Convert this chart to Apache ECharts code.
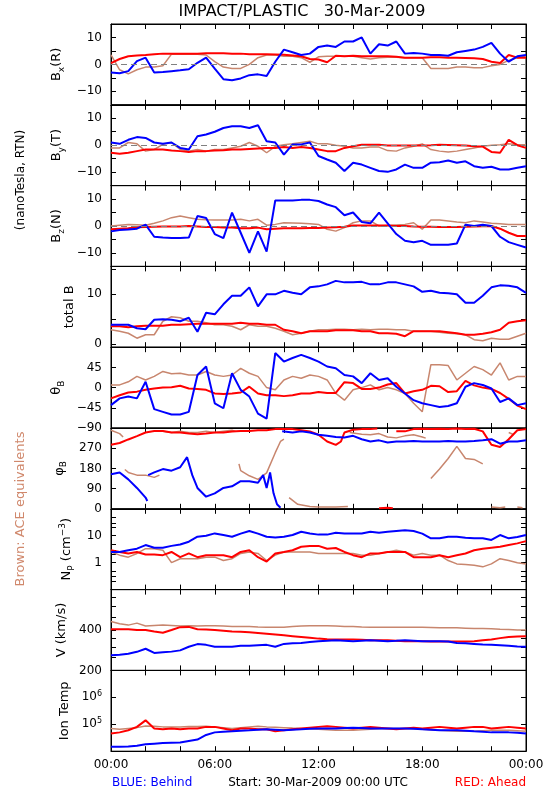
<!DOCTYPE html>
<html><head><meta charset="utf-8">
<script src="https://cdn.jsdelivr.net/npm/echarts@6/dist/echarts.min.js"></script>
<style>html,body{margin:0;padding:0;background:#fff}#c{width:550px;height:800px}</style>
</head><body><div id="c"></div>
<script>
// ---- time grid (hours after 30-Mar-2009 00:00 UTC) ----
const hours = [0,0.5,1,1.5,2,2.5,3,3.5,4,4.5,5,5.5,6,6.5,7,7.5,8,8.5,9,9.5,10,10.5,11,11.5,12,12.5,13,13.5,14,14.5,15,15.5,16,16.5,17,17.5,18,18.5,19,19.5,20,20.5,21,21.5,22,22.5,23,23.5,24];
const xTickHours = [0,2,4,6,8,10,12,14,16,18,20,22,24];
const xLabelHours = [0,6,12,18,24];
const xLabelText = ['00:00','06:00','12:00','18:00','00:00'];

// ---- Bx (R) ----
const bxBlue = [-3,-3.3,-2.5,1.2,2.5,-3,-2.8,-2.5,-2.2,-1.8,0.6,2.5,-1.6,-5.5,-5.9,-5.2,-4,-3.7,-4.3,1,5.5,4.5,3.5,4,6.5,7,6.5,8.5,8.5,10,4,7.5,7,8.5,4,4.2,4,3.5,3.5,3.2,4.5,5,5.5,6.5,8,4,1,3,3.5];
const bxRed = [0.5,2,3,3.3,3.5,3.8,4,4,4,4,4,4.1,4.1,4.1,4,4,3.8,3.8,3.8,3.7,3.6,3.3,3,2,1.8,0.8,3.2,3,3.2,3,3,3,3,2.8,2.5,2.5,2.5,2.7,2.7,2.5,2.5,2.4,2.3,2,1,0.5,3.5,2.5,2.5];
const bxBrown = [3.5,-2,-3.5,-2,-1,-1,-0.5,3.8,3.8,3.8,3.8,3.5,1,-1,-1.5,-1.5,0,2.5,3.5,3.5,3,3,2.5,0.8,2.8,3,3,3,3,2.5,2,2.5,2.7,2.7,2.5,2.5,2.5,-1.5,-1.5,-1.5,-1,-1,-1.2,-1.2,-0.5,0,1.5,2.5,3];
// ---- By (T) ----
const byBlue = [1,0.5,2,3,2.7,1,0.5,1,-1,-1.6,3.3,4,5,6.4,7,7,6.4,7.4,1.5,1,-3.5,0.3,0.3,1,-4,-5.3,-6.5,-9.6,-6.5,-7.2,-8.4,-9.6,-9.9,-9,-7.2,-8.4,-8.4,-6.5,-6.3,-5.7,-6.5,-6,-7.8,-8.4,-8,-9,-9,-8.4,-7.8];
const byRed = [-2.8,-3.2,-2.8,-2.2,-1.6,-1.6,-1.6,-2,-2.2,-2.5,-2.2,-2.2,-2,-1.9,-1.6,-1.6,-1.4,-1.2,-1,-1,-0.7,-1,-0.7,-1,-1.6,-2.2,-2.2,-1,-0.4,0.2,0.2,0.2,-0.1,-0.1,-0.1,-0.1,-0.1,0,0.2,0.1,0,-0.1,-0.4,-0.5,-2.5,-2.8,2,0,-1];
const byBrown = [-1,-1,1,0.5,-2.2,-1.6,0.3,1,-1.6,-2.2,-1.6,-2.2,-1.6,-1.6,-1,-0.4,1,-0.4,-2.8,-0.4,0.2,0.5,1,1.5,0.5,0.5,0,-0.4,-1,-1,-0.7,-0.7,-2,-2.2,-1,-0.4,0.5,-1.6,-2.2,-2.5,-2.2,-1.6,-1,-0.4,0,0.2,0.5,0.2,0.2];
// ---- Bz (N) ----
const bzBlue = [-2,-1.5,-1.3,-1,0.5,-4,-4.3,-4.5,-4.5,-4.3,3.7,3,-3,-4.5,5,-2.5,-10,-2,-9.5,9.5,9.5,9.5,9.7,9.7,9.3,8,7,4,5,1.5,1,5,1,-3,-5.5,-6,-5.5,-7,-7,-7,-6.5,0.5,0,0.5,0,-4,-6,-7,-8];
const bzRed = [-1.2,-1,-0.8,-0.5,-0.4,-0.3,-0.2,-0.2,-0.2,0,-0.2,-0.4,-0.4,-0.6,-0.6,-0.8,-0.8,-0.6,-1.2,-1,-0.8,-0.8,-0.8,-0.7,-0.7,-0.6,-0.5,-0.3,0.2,0.2,0.2,0.2,0.2,0,0,-0.2,-0.3,-0.3,-0.4,-0.4,-0.4,-0.3,-0.2,-0.1,0,-1,-2.5,-3.7,-3.7];
const bzBrown = [0,0.3,0.6,0.5,0.3,1,1.9,3.1,3.7,3.1,2.5,2.3,2.2,2.2,2.2,2.5,1.9,2.5,0.3,0.6,1.2,1.1,1,0.8,0.6,-1.2,-1.9,-0.6,1.2,1.9,1.9,0,0.2,0.4,0.6,1.2,-1.2,2.2,2.2,1.9,1.5,1.2,1.9,1.5,1,0.8,0.6,0.6,0.6];
// ---- total B ----
const btBlue = [3.9,3.9,3.9,3.2,3,4.9,5,4.9,4.6,5.3,2.5,6.3,6,8,9.7,9.7,11.4,7.6,10,10,10.7,10.3,10,11.4,11.6,12,12.7,12.4,12.4,12.5,12,12,12.4,12.4,12,11.6,10.5,10.7,10.3,10.2,10,8.3,8.3,9.7,11.4,11.8,11.7,11.4,10.3];
const btRed = [3.6,3.6,3.4,3.6,3.7,3.7,3.7,3.9,3.9,4,4.1,4.1,4.1,4.1,4.1,4.3,4.1,4.1,3.9,3.9,2.9,2.6,2.2,2.6,2.6,2.6,2.8,2.8,2.8,2.6,2.6,2.2,2.2,2.1,1.6,2.6,2.6,2.6,2.6,2.4,2.2,1.9,1.9,2.1,2.4,2.9,4.3,4.6,4.8];
const btBrown = [2.9,2.6,2.2,1.2,1.9,1.9,4.6,5.5,5.3,4.6,4.6,4.3,3.9,3.9,3.6,2.9,3.9,3.6,3.6,3.2,2.6,1.9,2.2,2.6,2.9,2.9,3,3,2.9,3,2.9,3,3,2.9,2.9,2.6,2.6,2.6,2.4,2.2,2.1,1.9,0.9,0.7,1.2,1,1,1.6,2.2];
// ---- theta B ----
const thBlue = [-39,-24,-20,-24,13,-48,-54,-60,-60,-54,28,47,-35,-46,32,-5,-20,-58,-69,77,58,66,73,66,58,47,43,28,25,10,32,17,21,2,-13,-28,-35,-39,-43,-41,-35,2,10,6,-2,-32,-24,-39,-35];
const thRed = [-24,-17,-11,-9,-5,-2,0,1,4,-2,-3,-5,-13,-14,-13,-11,2,-13,-17,-17,-19,-17,-13,-13,-10,-12,-12,12,10,-3,-3,0,7,10,-13,-8,-5,4,3,-10,-8,15,5,0,-3,-12,-25,-40,-48];
const thBrown = [6,6,13,25,17,25,36,31,32,28,28,36,28,25,28,43,32,25,0,-5,17,25,21,28,25,17,-13,-28,-5,0,6,-5,0,-5,-13,-35,-54,51,51,49,17,32,47,40,28,55,17,25,25];
// ---- phi B : [hour, degrees], null = gap (angle wraps) ----
const phBlue = [[0,154],[0.5,162],[1,131],[1.5,93],[2,50],[2.1,35],[2.1,null],[2.15,150],[2.5,162],[3,177],[3.5,170],[4,185],[4.4,230],[4.7,150],[5,93],[5.5,54],[6,69],[6.5,93],[7,100],[7.5,123],[8,123],[8.5,116],[8.8,150],[9,93],[9.2,162],[9.4,69],[9.6,20],[9.8,5],[9.8,null],[9.9,345],[10.5,340],[11,345],[11.5,340],[12,330],[12.5,325],[13,320],[13.5,318],[14,325],[14.5,310],[15,300],[15.5,305],[16,295],[16.5,300],[17,300],[17.5,302],[18,300],[18.5,300],[19,300],[19.5,302],[20,300],[20.5,300],[21,302],[21.5,305],[22,310],[22.5,290],[23,300],[23.5,300],[24,305]];
const phRed = [[0,285],[0.5,293],[1,309],[1.5,324],[2,340],[2.5,347],[3,347],[3.5,340],[4,340],[4.5,335],[5,332],[5.5,335],[6,340],[6.5,340],[7,344],[7.5,347],[8,347],[8.5,350],[9,350],[9.5,355],[10,355],[10.5,355],[11,350],[11.5,345],[12,330],[12.5,300],[13,285],[13.3,300],[13.5,340],[14,352],[14.5,355],[15,355],[15.4,358],[15.4,null],[15.5,3],[16,5],[16.3,3],[16.3,null],[16.5,345],[17,345],[17.5,355],[18,357],[18.5,356],[19,357],[19.5,356],[20,358],[20.5,356],[21,357],[21.5,345],[22,285],[22.5,275],[23,310],[23.5,350],[24,355]];
const phBrown = [[0,350],[0.5,335],[0.7,320],[0.7,null],[0.8,175],[1,162],[1.5,150],[2,150],[2.5,140],[2.8,150],[2.8,null],[3,345],[3.5,340],[4,345],[4.5,340],[5,340],[5.5,345],[6,340],[6.5,345],[7,350],[7.2,345],[7.2,null],[7.4,200],[7.5,170],[8,147],[8.5,131],[9,160],[9.5,250],[9.8,300],[10,310],[10,null],[10.3,50],[10.8,20],[11.5,10],[12,8],[13,8],[13.7,10],[13.7,null],[13.8,340],[14.5,332],[15,330],[15.5,335],[16,320],[16.5,316],[17,325],[17.5,330],[18,320],[18.2,315],[18.2,null],[18.5,135],[19,177],[19.5,224],[20,278],[20.5,224],[21,220],[21.5,200],[21.5,null],[22,8],[22.5,5],[22.8,8],[22.8,null],[23,340],[23.3,330],[23.3,null],[23.5,8],[23.8,5],[23.8,null],[24,355]];
// ---- Np (cm^-3) ----
const npBlue = [2.5,2.5,2.9,3.3,4.5,3.6,3.6,4.2,4.7,6,9.2,10,12.2,10.6,9.2,12,15,12,9.2,8.6,9.2,10.6,14,12,11,11,13,12,12,12,14,13,14,15,16,15,12,8,8,9.2,9.2,8.4,8,8,7,10.6,8,9,10.6];
const npRed = [2.9,2.5,2.2,2.5,2,2,1.9,2.5,1.6,2.2,1.6,1.9,1.9,1.9,1.6,2.5,2.9,1.6,1.1,2.2,2.5,2.9,3.9,4.2,4.2,3.3,3.5,2.5,1.9,1.6,2.2,2.2,2.5,2.5,2.5,1.6,1.6,1.6,1.9,1.6,1.9,2.2,2.9,3.3,3.6,3.9,4.5,5.2,6.3];
const npBrown = [2.5,1.9,1.6,2.2,3.3,3.3,2.9,1,1.4,1.4,1.4,1.6,1.6,1.2,1.4,2.2,2.5,2.2,1.2,1.9,2.5,2.5,2.5,2.5,2.2,2.2,2.2,2.2,2.2,1.9,1.9,2.2,2.5,2.9,2.5,1.9,2.2,1.9,1.9,1.2,0.9,0.85,0.8,0.7,0.9,1.4,1.2,1,0.9];
// ---- V (km/s) ----
const vBlue = [259,262,266,275,290,270,273,276,282,300,314,310,300,300,300,305,305,308,310,300,315,318,320,325,330,332,335,333,330,333,335,333,330,332,335,333,330,330,330,328,320,318,315,312,310,308,305,302,300];
const vRed = [405,405,405,400,400,390,382,400,420,422,405,403,400,395,390,388,385,380,375,370,365,360,355,350,345,342,340,340,340,338,335,335,335,333,330,330,330,329,328,328,328,329,330,335,340,348,355,358,360];
const vBrown = [462,445,435,450,428,432,435,432,428,430,428,430,430,428,425,425,425,422,420,420,420,425,428,430,430,430,428,425,425,422,420,420,420,420,420,420,420,418,415,415,415,413,410,410,408,405,403,400,400];
// ---- Ion Temp (K) ----
const tBlue = [14500,14500,15000,16000,18000,19000,20000,20500,21000,24000,27000,40000,50000,53000,55000,58000,60000,63000,65000,63000,60000,63000,65000,68000,70000,70000,70000,73000,75000,73000,70000,70000,70000,70000,70000,68000,65000,63000,60000,60000,60000,58000,55000,53000,50000,50000,50000,48000,45000];
const tRed = [45000,50000,60000,80000,140000,70000,65000,70000,65000,70000,70000,80000,80000,70000,60000,70000,70000,65000,65000,55000,60000,65000,70000,75000,80000,85000,80000,75000,70000,75000,80000,75000,70000,65000,70000,75000,70000,75000,80000,75000,70000,75000,80000,80000,70000,75000,80000,75000,70000];
const tBrown = [70000,65000,70000,75000,86000,85000,80000,80000,80000,83000,83000,85000,80000,75000,70000,75000,80000,85000,80000,78000,75000,72000,70000,68000,65000,63000,60000,60000,60000,63000,65000,68000,70000,70000,70000,68000,65000,63000,60000,58000,55000,55000,55000,58000,60000,60000,60000,58000,55000];

// ---- axis ticks / labels ----
const bTicks = [-15,-10,-5,0,5,10,15], bLabels = [-10,0,10];
const btTicks = [0,5,10,15], btLabels = [0,10];
const thTicks = [-90,-45,0,45,90], thLabels = [-90,-45,0,45];
const phTicks = [0,90,180,270,360], phLabels = [0,90,180,270];
const npTicks = [0.2,0.3,0.5,1,2,3,5,10,20,30,50], npLabels = [1,10];
const vTicks = [200,250,300,350,400,500,600,700], vLabels = [200,400];
const tTicks = [1e5,1e6], tLabels = [1e5,1e6];

const COL = {blue:'#0000ff', red:'#ff0000', brown:'#c8866e'};
const FONT = 'DejaVu Sans';

const zip = a => a.map((v,i) => [hours[i], v]);
const minus = v => String(v).replace('-', '\u2212');
const pow10 = v => '10{p|' + Math.round(Math.log10(v)) + '}';

const panels = [
  {name:'B{s|x}(R)', gap:40, type:'value', min:-15, max:15, ticks:bTicks, labels:bLabels, fmt:minus, zero:true, d:[zip(bxBrown),zip(bxRed),zip(bxBlue)]},
  {name:'B{s|y}(T)', gap:39, type:'value', min:-15, max:15, ticks:bTicks, labels:bLabels, fmt:minus, zero:true, d:[zip(byBrown),zip(byRed),zip(byBlue)]},
  {name:'B{s|z}(N)', gap:39, type:'value', min:-15, max:15, ticks:bTicks, labels:bLabels, fmt:minus, zero:true, d:[zip(bzBrown),zip(bzRed),zip(bzBlue)]},
  {name:'total B', gap:31, type:'value', min:-0.6, max:15.6, ticks:btTicks, labels:btLabels, fmt:minus, d:[zip(btBrown),zip(btRed),zip(btBlue)]},
  {name:'\u03b8{s|B}', gap:39, type:'value', min:-90, max:90, ticks:thTicks, labels:thLabels, fmt:minus, d:[zip(thBrown),zip(thRed),zip(thBlue)]},
  {name:'\u03c6{s|B}', gap:37, type:'value', min:0, max:360, ticks:phTicks, labels:phLabels, fmt:minus, d:[phBrown,phRed,phBlue]},
  {name:'N{s|P} (cm{p|\u22123})', gap:30, type:'log', min:0.1, max:100, ticks:npTicks, labels:npLabels, fmt:v=>String(v), d:[zip(npBrown),zip(npRed),zip(npBlue)]},
  {name:'V (km/s)', gap:37, type:'log', min:200, max:800, ticks:vTicks, labels:vLabels, fmt:v=>String(v), d:[zip(vBrown),zip(vRed),zip(vBlue)]},
  {name:'Ion Temp', gap:35, type:'log', min:1e4, max:1e7, ticks:tTicks, labels:tLabels, fmt:pow10, d:[zip(tBrown),zip(tRed),zip(tBlue)]}
];

const LEFT = 111, RIGHT = 24, TOP0 = 24, PH = 80.8;
const grids = [], xAxes = [], yAxes = [], series = [];
const rich = {
  s:{fontSize:9, fontFamily:FONT, color:'#000', verticalAlign:'bottom', padding:[9,0,0,0]},
  p:{fontSize:9, fontFamily:FONT, color:'#000', verticalAlign:'top', padding:[0,0,8,0]}
};
panels.forEach((p, i) => {
  grids.push({left:LEFT, right:RIGHT, top:TOP0 + i*PH, height:PH, show:true, borderColor:'#000', borderWidth:1, backgroundColor:'transparent'});
  const last = i === panels.length - 1;
  const xc = {type:'value', gridIndex:i, min:0, max:24, splitLine:{show:false},
    axisLine:{show:true, onZero:false, lineStyle:{color:'#000'}},
    axisTick:{show:true, inside:true, length:5, customValues:xTickHours, lineStyle:{color:'#000'}}};
  xAxes.push(Object.assign({}, xc, {position:'bottom',
    axisLabel:{show:last, customValues:xLabelHours, formatter:v => xLabelText[xLabelHours.indexOf(v)], color:'#000', fontSize:12, fontFamily:FONT, margin:8}}));
  xAxes.push(Object.assign({}, xc, {position:'top', axisLabel:{show:false}}));
  const yc = {type:p.type, gridIndex:i, min:p.min, max:p.max, splitLine:{show:false}, minorTick:{show:false},
    axisLine:{show:true, onZero:false, lineStyle:{color:'#000'}},
    axisTick:{show:true, inside:true, length:5, customValues:p.ticks, lineStyle:{color:'#000'}}};
  if (p.type === 'log') yc.logBase = 10;
  yAxes.push(Object.assign({}, yc, {position:'left', name:p.name, nameLocation:'middle', nameRotate:90, nameGap:p.gap,
    nameTextStyle:{color:'#000', fontSize:13, fontFamily:FONT, rich:rich},
    axisLabel:{show:true, customValues:p.labels, formatter:p.fmt, color:'#000', fontSize:12, fontFamily:FONT, margin:9, rich:{p:{fontSize:8, fontFamily:FONT, color:'#000', verticalAlign:'top', padding:[0,0,7,0]}}}}));
  yAxes.push(Object.assign({}, yc, {position:'right', axisLabel:{show:false}}));
  const cols = [COL.brown, COL.red, COL.blue];
  p.d.forEach((data, k) => {
    const s = {type:'line', xAxisIndex:2*i, yAxisIndex:2*i, data:data, showSymbol:false, symbol:'none',
      connectNulls:false, silent:true, animation:false, z:2+k,
      lineStyle:{color:cols[k], width:k===0?1.5:2}};
    if (k === 0 && p.zero) {
      s.markLine = {silent:true, symbol:'none', label:{show:false}, animation:false,
        lineStyle:{color:'#808080', type:[6,4], width:1}, data:[{yAxis:0}]};
    }
    series.push(s);
  });
});

const txt = (x, y, text, opt) => Object.assign({type:'text', x:x, y:y,
  style:Object.assign({text:text, fill:'#000', font:'12px "' + FONT + '"', align:'center', verticalAlign:'middle'}, opt || {})});
const graphic = [
  txt(302, 12, 'IMPACT/PLASTIC   30-Mar-2009', {font:'16px "' + FONT + '"'}),
  Object.assign(txt(21, 180, '(nanoTesla, RTN)', {font:'12px "' + FONT + '"'}), {rotation:Math.PI/2}),
  Object.assign(txt(21, 509, 'Brown: ACE equivalents', {font:'13px "' + FONT + '"', fill:'#d0886c'}), {rotation:Math.PI/2}),
  txt(112, 783, 'BLUE: Behind', {align:'left', fill:COL.blue}),
  txt(318, 783, 'Start: 30-Mar-2009 00:00 UTC'),
  txt(526, 783, 'RED: Ahead', {align:'right', fill:COL.red})
];

const chart = echarts.init(document.getElementById('c'), null, {renderer:'canvas'});
chart.setOption({animation:false, backgroundColor:'#fff', grid:grids, xAxis:xAxes, yAxis:yAxes, series:series, graphic:graphic});
</script></body></html>
